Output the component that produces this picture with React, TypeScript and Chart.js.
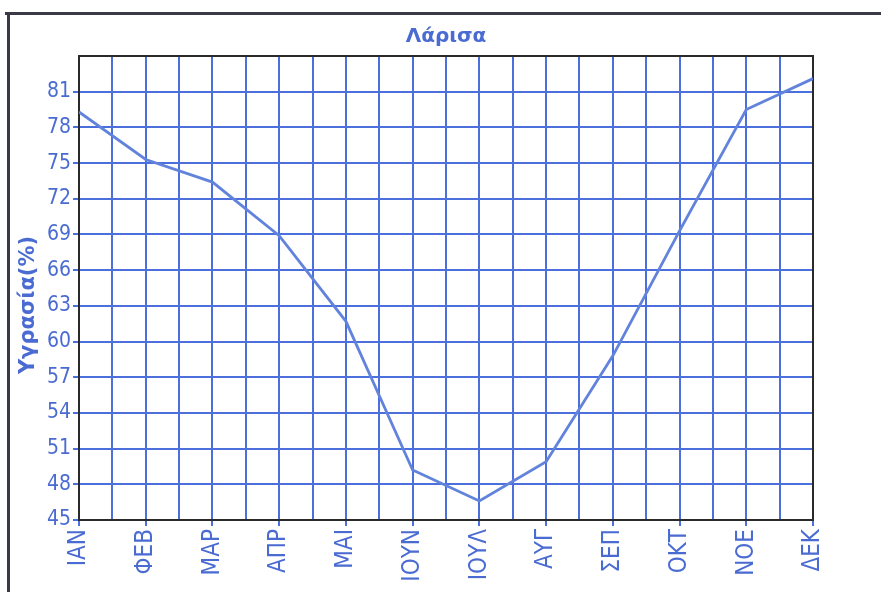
import { useEffect, useRef } from 'react';
import { Chart, registerables } from 'chart.js';

Chart.register(...registerables);

const chartTitle = 'Λάρισα';
const yAxisTitle = 'Υγρασία(%)';
const months = ['ΙΑΝ', 'ΦΕΒ', 'ΜΑΡ', 'ΑΠΡ', 'ΜΑΙ', 'ΙΟΥΝ', 'ΙΟΥΛ', 'ΑΥΓ', 'ΣΕΠ', 'ΟΚΤ', 'ΝΟΕ', 'ΔΕΚ'];
const humidity = [79.3, 75.3, 73.4, 68.9, 61.7, 49.2, 46.6, 49.9, 58.8, 69.3, 79.5, 82.1];
const yMin = 45;
const yMax = 84;
const yStep = 3;
const xStep = 0.5;

const TEXT_BLUE = '#4a6bd2';
const GRID_BLUE = '#4b6fdc';
const LINE_BLUE = '#6283dc';
const BORDER = '#2a2a2a';

export default function App() {
  const ref = useRef<HTMLCanvasElement | null>(null);

  useEffect(() => {
    if (!ref.current) return;

    const borderPlugin = {
      id: 'plotBorder',
      beforeDatasetsDraw(chart: any) {
        const { ctx, chartArea } = chart;
        ctx.save();
        ctx.strokeStyle = BORDER;
        ctx.lineWidth = 2;
        ctx.strokeRect(chartArea.left, chartArea.top, chartArea.right - chartArea.left, chartArea.bottom - chartArea.top);
        ctx.restore();
      },
    };

    const yTitlePlugin = {
      id: 'yTitle',
      afterDraw(chart: any) {
        const { ctx, chartArea } = chart;
        const yScale = chart.scales.y;
        ctx.save();
        ctx.fillStyle = TEXT_BLUE;
        ctx.font = 'bold 21px "DejaVu Sans"';
        ctx.textAlign = 'center';
        ctx.textBaseline = 'middle';
        ctx.translate(yScale.left + 29, (chartArea.top + chartArea.bottom) / 2 + 17);
        ctx.rotate(-Math.PI / 2);
        ctx.fillText(yAxisTitle, 0, 0);
        ctx.restore();
      },
    };

    const chart = new Chart(ref.current, {
      type: 'line',
      data: {
        datasets: [
          {
            data: humidity.map((v, i) => ({ x: i, y: v })),
            borderColor: LINE_BLUE,
            borderWidth: 2.8,
            pointRadius: 0,
            tension: 0,
            fill: false,
          },
        ],
      },
      options: {
        animation: false,
        responsive: true,
        maintainAspectRatio: false,
        layout: { padding: { top: 0, right: 68, bottom: 0, left: 0 } },
        plugins: {
          legend: { display: false },
          tooltip: { enabled: false },
          title: {
            display: true,
            fullSize: false,
            text: chartTitle,
            color: TEXT_BLUE,
            font: { family: '"DejaVu Sans"', size: 20, weight: 'bold' },
            padding: { top: 25, bottom: 7 },
          },
        },
        scales: {
          x: {
            type: 'linear',
            min: 0,
            max: months.length - 1,
            afterFit(scale: any) {
              scale.height = 79;
            },
            ticks: {
              stepSize: xStep,
              autoSkip: false,
              maxRotation: 90,
              minRotation: 90,
              padding: 3,
              color: TEXT_BLUE,
              font: { family: '"Liberation Sans Narrow", "DejaVu Sans Condensed", sans-serif', size: 24 },
              callback: (v: any) => (Number.isInteger(v) ? months[v] : ''),
            },
            grid: {
              color: GRID_BLUE,
              lineWidth: 2,
              tickLength: 6,
              tickColor: (ctx: any) => (ctx.tick && Number.isInteger(ctx.tick.value) ? GRID_BLUE : 'rgba(0,0,0,0)'),
            },
            border: { display: false },
          },
          y: {
            type: 'linear',
            min: yMin,
            max: yMax,
            afterFit(scale: any) {
              scale.width = 79;
            },
            ticks: {
              stepSize: yStep,
              padding: 2,
              color: TEXT_BLUE,
              font: { family: '"DejaVu Sans Condensed", "DejaVu Sans", sans-serif', size: 21 },
              callback: (v: any) => (v === yMax ? '' : String(v)),
            },
            grid: {
              color: GRID_BLUE,
              lineWidth: 2,
              tickLength: 6,
              tickColor: (ctx: any) => (ctx.tick && ctx.tick.value === yMax ? 'rgba(0,0,0,0)' : GRID_BLUE),
            },
            border: { display: false },
          },
        },
      },
      plugins: [borderPlugin, yTitlePlugin],
    });

    return () => chart.destroy();
  }, []);

  return (
    <div style={{ position: 'fixed', left: 0, top: 0, width: 881, height: 599, background: '#ffffff' }}>
      <div style={{ position: 'absolute', left: 5, top: 12, width: 876, height: 3, background: '#3a3a46' }} />
      <div style={{ position: 'absolute', left: 7, top: 12, width: 3, height: 580, background: '#3a3a46' }} />
      <div style={{ position: 'absolute', left: 0, top: 0, width: 881, height: 599 }}>
        <canvas ref={ref} />
      </div>
    </div>
  );
}
